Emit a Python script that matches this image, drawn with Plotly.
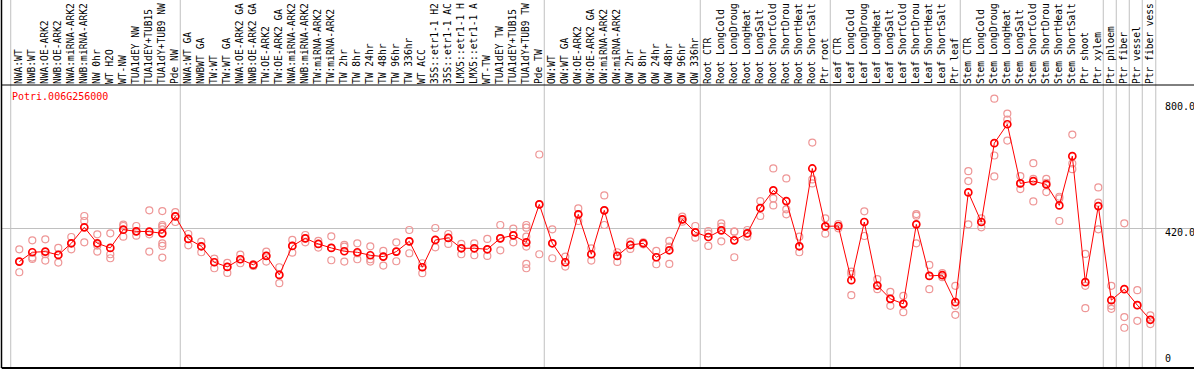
import plotly.graph_objects as go

gene = "Potri.006G256000"

# category labels as shown (the reference cuts long names to 14 characters)
categories = [
    "NWA:WT", "NWB:WT", "NWA:OE-ARK2", "NWB:OE-ARK2", "NWA:miRNA-ARK2", "NWB:miRNA-ARK2",
    "NW 0hr", "WT H2O", "WT-NW", "TUA1dEY NW", "TUA1dEY+TUB15", "TUA1dY+TUB9 NW", "Pde NW",
    "NWA:WT GA", "NWBWT GA", "TW:WT", "TW:WT GA", "NWA:OE-ARK2 GA", "NWB:OE-ARK2 GA",
    "TW:OE-ARK2", "TW:OE-ARK2 GA", "NWA:miRNA-ARK2", "NWB:miRNA-ARK2", "TW:miRNA-ARK2",
    "TW:miRNA-ARK2", "TW 2hr", "TW 8hr", "TW 24hr", "TW 48hr", "TW 96hr", "TW 336hr", "WT ACC",
    "35S::etr1-1 H2", "35S::etr1-1 AC", "LMX5::etr1-1 H", "LMX5::etr1-1 A", "WT-TW",
    "TUA1dEY TW", "TUA1dEY+TUB15", "TUA1dY+TUB9 TW", "Pde TW",
    "OW:WT", "OW:WT GA", "OW:OE-ARK2", "OW:OE-ARK2 GA", "OW:miRNA-ARK2", "OW:miRNA-ARK2",
    "OW 2hr", "OW 8hr", "OW 24hr", "OW 48hr", "OW 96hr", "OW 336hr",
    "Root CTR", "Root LongCold", "Root LongDroug", "Root LongHeat", "Root LongSalt",
    "Root ShortCold", "Root ShortDrou", "Root ShortHeat", "Root ShortSalt", "Ptr root",
    "Leaf CTR", "Leaf LongCold", "Leaf LongDroug", "Leaf LongHeat", "Leaf LongSalt",
    "Leaf ShortCold", "Leaf ShortDrou", "Leaf ShortHeat", "Leaf ShortSalt", "Ptr leaf",
    "Stem CTR", "Stem LongCold", "Stem LongDroug", "Stem LongHeat", "Stem LongSalt",
    "Stem ShortCold", "Stem ShortDrou", "Stem ShortHeat", "Stem ShortSalt", "Ptr shoot",
    "Ptr xylem", "Ptr phloem", "Ptr fiber", "Ptr vessel", "Ptr fiber vess",
]

means = [
    320, 348, 350, 340, 375, 423, 375, 361, 416, 411, 410, 405, 456,
    388, 366, 318, 304, 327, 310, 337, 280, 367, 390, 373, 361, 351, 348, 339, 335, 350,
    381, 303, 385, 391, 360, 360, 357, 390, 399, 378, 492,
    375, 318, 462, 342, 474, 337, 370, 375, 333, 354, 447, 408,
    394, 414, 384, 405, 481, 534, 502, 366, 600, 426,
    427, 264, 439, 248, 208, 193, 432, 277, 279, 198,
    528, 439, 676, 733, 555, 562, 552, 489, 637, 258, 487,
    204, 237, 189, 145,
]

replicates = [
    [357, 320, 288], [384, 332, 328], [387, 342, 323], [361, 340, 317], [394, 375, 357],
    [457, 442, 378], [402, 368, 350], [405, 342, 330], [431, 427, 395], [427, 411, 398],
    [474, 402, 350], [472, 430, 425, 417, 375, 367, 332], [469, 456, 439],
    [403, 388, 369], [380, 366, 348], [329, 318, 300], [316, 304, 286], [341, 327, 315],
    [312, 307, 310], [350, 337, 320], [303, 280, 255], [385, 367, 347], [400, 390, 378],
    [382, 373, 362], [396, 361, 324], [370, 365, 320], [375, 345, 327], [366, 327, 320],
    [352, 335, 308], [378, 350, 321], [415, 381, 345], [315, 303, 285], [421, 385, 363],
    [403, 391, 373], [373, 360, 342], [375, 360, 339], [388, 357, 337], [430, 390, 354],
    [419, 399, 378], [430, 422, 395, 365, 313, 300], [642, 492, 342],
    [417, 375, 330], [335, 318, 305], [480, 462, 442], [360, 342, 323], [519, 474, 430],
    [348, 337, 319], [380, 370, 358], [378, 375, 372], [352, 333, 312], [382, 365, 313],
    [455, 447, 440], [427, 408, 392],
    [412, 404, 367], [435, 425, 381], [410, 410, 333], [415, 405, 395], [502, 481, 457],
    [600, 510, 489], [570, 477, 462], [395, 366, 348], [678, 567, 555], [450, 426, 404],
    [433, 427, 420], [290, 282, 219], [471, 439, 397], [267, 248, 237], [229, 208, 187],
    [217, 193, 168], [463, 458, 375], [310, 277, 237], [285, 279, 273], [247, 187, 160],
    [592, 562, 432], [450, 439, 423], [810, 639, 576], [765, 747, 684], [577, 555, 538],
    [616, 569, 501], [569, 557, 529], [515, 510, 442], [702, 615, 598], [343, 247, 180],
    [543, 497, 417],
    [247, 187, 178], [435, 153, 121], [234, 189, 142], [158, 145, 132],
]

# last category index of each group (group separators)
group_ends = [12, 40, 52, 62, 72, 83, 84, 85, 86, 87]
right_labels = [800, 420, 0]

W, H = 1194, 370
ML, MR, MT, MB = 2, 0, 85, 2
x_lo, x_hi = -1.331, 90.36
y_lo, y_hi = 0, 851
FONT = "DejaVu Sans Mono"

idx = list(range(len(categories)))
rx, ry = [], []
for i, reps in enumerate(replicates):
    for v in reps:
        rx.append(i)
        ry.append(v)

fig = go.Figure()
fig.add_trace(go.Scatter(
    x=rx, y=ry, mode="markers",
    marker=dict(symbol="circle-open", size=7, color="rgb(238,150,150)", line=dict(width=1.2)),
    hoverinfo="skip", showlegend=False,
))
fig.add_trace(go.Scatter(
    x=idx, y=means, mode="lines+markers",
    line=dict(color="#ff0000", width=1),
    marker=dict(symbol="circle-open", size=7, color="#ff0000", line=dict(width=1.7)),
    showlegend=False,
))

top_ext = 1 + MT / (H - MT - MB)
shapes = []
for g in [-0.66] + [e + 0.38 for e in group_ends[:-1]] + [group_ends[-1] + 0.42]:
    shapes.append(dict(type="line", xref="x", yref="paper", x0=g, x1=g, y0=0, y1=top_ext,
                       line=dict(color="#c0c0c0", width=1), layer="below"))
# borders
shapes.append(dict(type="line", xref="paper", yref="paper", x0=-0.3 / (W - ML - MR), x1=1,
                   y0=1, y1=1, line=dict(color="black", width=1)))
shapes.append(dict(type="line", xref="paper", yref="paper", x0=-0.3 / (W - ML - MR), x1=1,
                   y0=0, y1=0, line=dict(color="black", width=2)))
shapes.append(dict(type="line", xref="paper", yref="paper", x0=-0.5 / (W - ML - MR),
                   x1=-0.5 / (W - ML - MR), y0=0, y1=top_ext, line=dict(color="black", width=1.5)))

annotations = [dict(text=gene, xref="paper", yref="paper", x=8 / (W - ML - MR),
                    y=1 - 12 / (H - MT - MB), xanchor="left", yanchor="middle", showarrow=False,
                    font=dict(family=FONT, size=10, color="#ff0000"))]
for v in right_labels:
    annotations.append(dict(text=f"{v:.1f}" if v else "0", x=87.98, y=v, xref="x", yref="y",
                            xanchor="left", yanchor="bottom" if v == 0 else "top",
                            yshift=2 if v == 0 else 3, showarrow=False,
                            font=dict(family=FONT, size=10, color="black")))

fig.update_layout(
    width=W, height=H,
    margin=dict(l=ML, r=MR, t=MT, b=MB, autoexpand=False),
    paper_bgcolor="white", plot_bgcolor="white",
    shapes=shapes, annotations=annotations,
    xaxis=dict(range=[x_lo, x_hi], side="top", tickmode="array", tickvals=idx, automargin=False,
               ticktext=categories, tickangle=-90, ticks="", showgrid=False, zeroline=False,
               showline=False, tickfont=dict(family=FONT, size=9.6, color="black")),
    yaxis=dict(range=[y_lo, y_hi], tickmode="array", tickvals=[420], showticklabels=False,
               automargin=False,
               showgrid=True, gridcolor="#c0c0c0", gridwidth=1, zeroline=False, showline=False),
)

fig.write_html("out.html", config={"displayModeBar": False},
               post_script="document.body.style.margin='0';")
